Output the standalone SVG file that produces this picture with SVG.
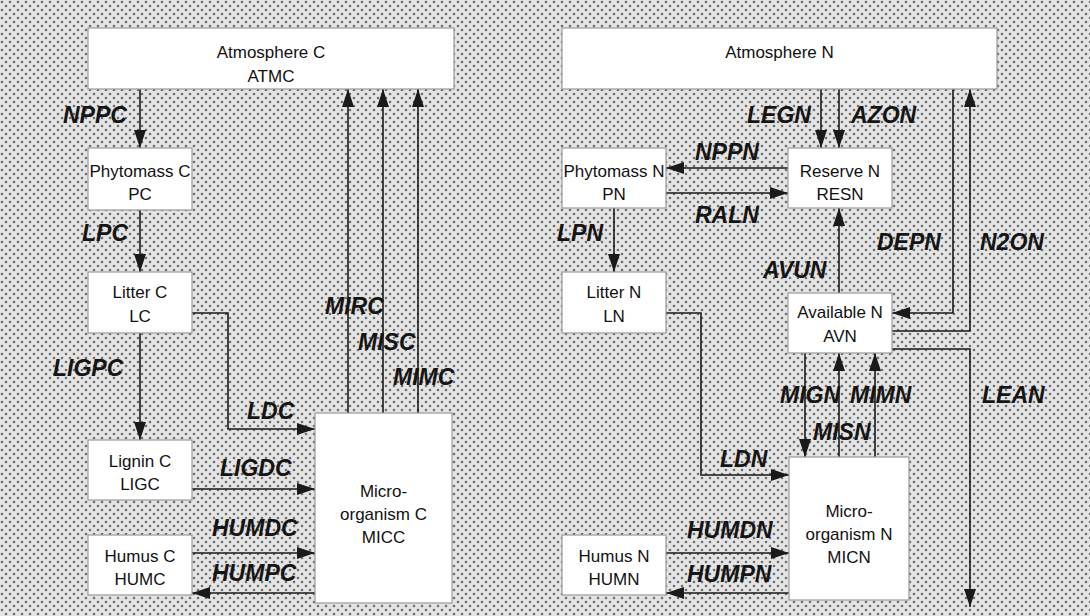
<svg xmlns="http://www.w3.org/2000/svg" width="1090" height="616" viewBox="0 0 1090 616">
<style>
.box{fill:#fff;stroke:#9a9a9a;stroke-width:1.2}
.nt{font-family:"Liberation Sans",Arial,sans-serif;font-size:17px;fill:#111;text-anchor:middle}
.lb{font-family:"Liberation Sans",Arial,sans-serif;font-size:23px;font-weight:bold;font-style:italic;fill:#151515}
.cn{fill:none;stroke:#1a1a1a;stroke-width:1.6;marker-end:url(#ah)}
</style>
<defs>
<pattern id="dots" width="8" height="8" patternUnits="userSpaceOnUse">
<rect width="8" height="8" fill="#e4e4e4"/>
<circle cx="2" cy="2" r="1.3" fill="#6e6e6e"/>
<circle cx="6" cy="6" r="1.3" fill="#6e6e6e"/>
</pattern>
<marker id="ah" viewBox="0 0 18 12" markerWidth="18" markerHeight="12" refX="18" refY="6" orient="auto" markerUnits="userSpaceOnUse">
<path d="M0,0 L18,6 L0,12 z" fill="#1a1a1a"/>
</marker>
</defs>
<rect width="1090" height="616" fill="url(#dots)"/>

<g id="connectors">
<path class="cn" d="M140,89 V148"/>
<path class="cn" d="M140,210 V272"/>
<path class="cn" d="M140,333 V440"/>
<path class="cn" d="M192,313 H228 V429 H315"/>
<path class="cn" d="M192,489 H315"/>
<path class="cn" d="M192,553 H315"/>
<path class="cn" d="M315,593 H192"/>
<path class="cn" d="M348,413 V89"/>
<path class="cn" d="M383,413 V89"/>
<path class="cn" d="M418,413 V89"/>
<path class="cn" d="M821,89 V148"/>
<path class="cn" d="M839,89 V148"/>
<path class="cn" d="M788,168 H666"/>
<path class="cn" d="M666,193 H788"/>
<path class="cn" d="M953,89 V313 H892"/>
<path class="cn" d="M892,331 H970 V89"/>
<path class="cn" d="M892,349 H970 V607"/>
<path class="cn" d="M839,293 V208"/>
<path class="cn" d="M614,208 V272"/>
<path class="cn" d="M666,313 H701 V475 H789"/>
<path class="cn" d="M805,353 V457"/>
<path class="cn" d="M839,457 V353"/>
<path class="cn" d="M875,457 V353"/>
<path class="cn" d="M666,553 H789"/>
<path class="cn" d="M789,593 H666"/>
</g>

<g id="labels">
<text class="lb" x="63" y="123">NPPC</text>
<text class="lb" x="82" y="241">LPC</text>
<text class="lb" x="53" y="376">LIGPC</text>
<text class="lb" x="325" y="314">MIRC</text>
<text class="lb" x="358" y="350">MISC</text>
<text class="lb" x="393" y="385">MIMC</text>
<text class="lb" x="247" y="419">LDC</text>
<text class="lb" x="220" y="476">LIGDC</text>
<text class="lb" x="212" y="536">HUMDC</text>
<text class="lb" x="212" y="581">HUMPC</text>
<text class="lb" x="747" y="123">LEGN</text>
<text class="lb" x="851" y="123">AZON</text>
<text class="lb" x="695" y="160">NPPN</text>
<text class="lb" x="695" y="223">RALN</text>
<text class="lb" x="557" y="241">LPN</text>
<text class="lb" x="877" y="250">DEPN</text>
<text class="lb" x="980" y="250">N2ON</text>
<text class="lb" x="763" y="278">AVUN</text>
<text class="lb" x="780" y="403">MIGN</text>
<text class="lb" x="850" y="403">MIMN</text>
<text class="lb" x="982" y="403">LEAN</text>
<text class="lb" x="813" y="440">MISN</text>
<text class="lb" x="720" y="467">LDN</text>
<text class="lb" x="687" y="538">HUMDN</text>
<text class="lb" x="687" y="582">HUMPN</text>
</g>

<g id="atmc"><rect class="box" x="88" y="28" width="366" height="61"/>
<text class="nt" x="271" y="58">Atmosphere C</text><text class="nt" x="271" y="82">ATMC</text></g>
<g id="pc"><rect class="box" x="88" y="148" width="104" height="62"/>
<text class="nt" x="140" y="177">Phytomass C</text><text class="nt" x="140" y="200">PC</text></g>
<g id="lc"><rect class="box" x="88" y="272" width="104" height="61"/>
<text class="nt" x="140" y="298">Litter C</text><text class="nt" x="140" y="322">LC</text></g>
<g id="ligc"><rect class="box" x="88" y="440" width="104" height="60"/>
<text class="nt" x="140" y="467">Lignin C</text><text class="nt" x="140" y="490">LIGC</text></g>
<g id="humc"><rect class="box" x="88" y="535" width="104" height="60"/>
<text class="nt" x="140" y="562">Humus C</text><text class="nt" x="140" y="585">HUMC</text></g>
<g id="micc"><rect class="box" x="315" y="413" width="137" height="190"/>
<text class="nt" x="383.5" y="497">Micro-</text><text class="nt" x="383.5" y="520">organism C</text><text class="nt" x="383.5" y="543">MICC</text></g>

<g id="atmn"><rect class="box" x="562" y="28" width="435" height="61"/>
<text class="nt" x="779.5" y="58">Atmosphere N</text></g>
<g id="pn"><rect class="box" x="562" y="148" width="104" height="60"/>
<text class="nt" x="614" y="177">Phytomass N</text><text class="nt" x="614" y="200">PN</text></g>
<g id="resn"><rect class="box" x="788" y="148" width="104" height="60"/>
<text class="nt" x="840" y="177">Reserve N</text><text class="nt" x="840" y="200">RESN</text></g>
<g id="ln"><rect class="box" x="562" y="272" width="104" height="61"/>
<text class="nt" x="614" y="298">Litter N</text><text class="nt" x="614" y="322">LN</text></g>
<g id="avn"><rect class="box" x="788" y="293" width="104" height="60"/>
<text class="nt" x="840" y="318">Available N</text><text class="nt" x="840" y="342">AVN</text></g>
<g id="micn"><rect class="box" x="789" y="457" width="120" height="143"/>
<text class="nt" x="849" y="517">Micro-</text><text class="nt" x="849" y="540">organism N</text><text class="nt" x="849" y="563">MICN</text></g>
<g id="humn"><rect class="box" x="562" y="535" width="104" height="60"/>
<text class="nt" x="614" y="562">Humus N</text><text class="nt" x="614" y="585">HUMN</text></g>
</svg>
